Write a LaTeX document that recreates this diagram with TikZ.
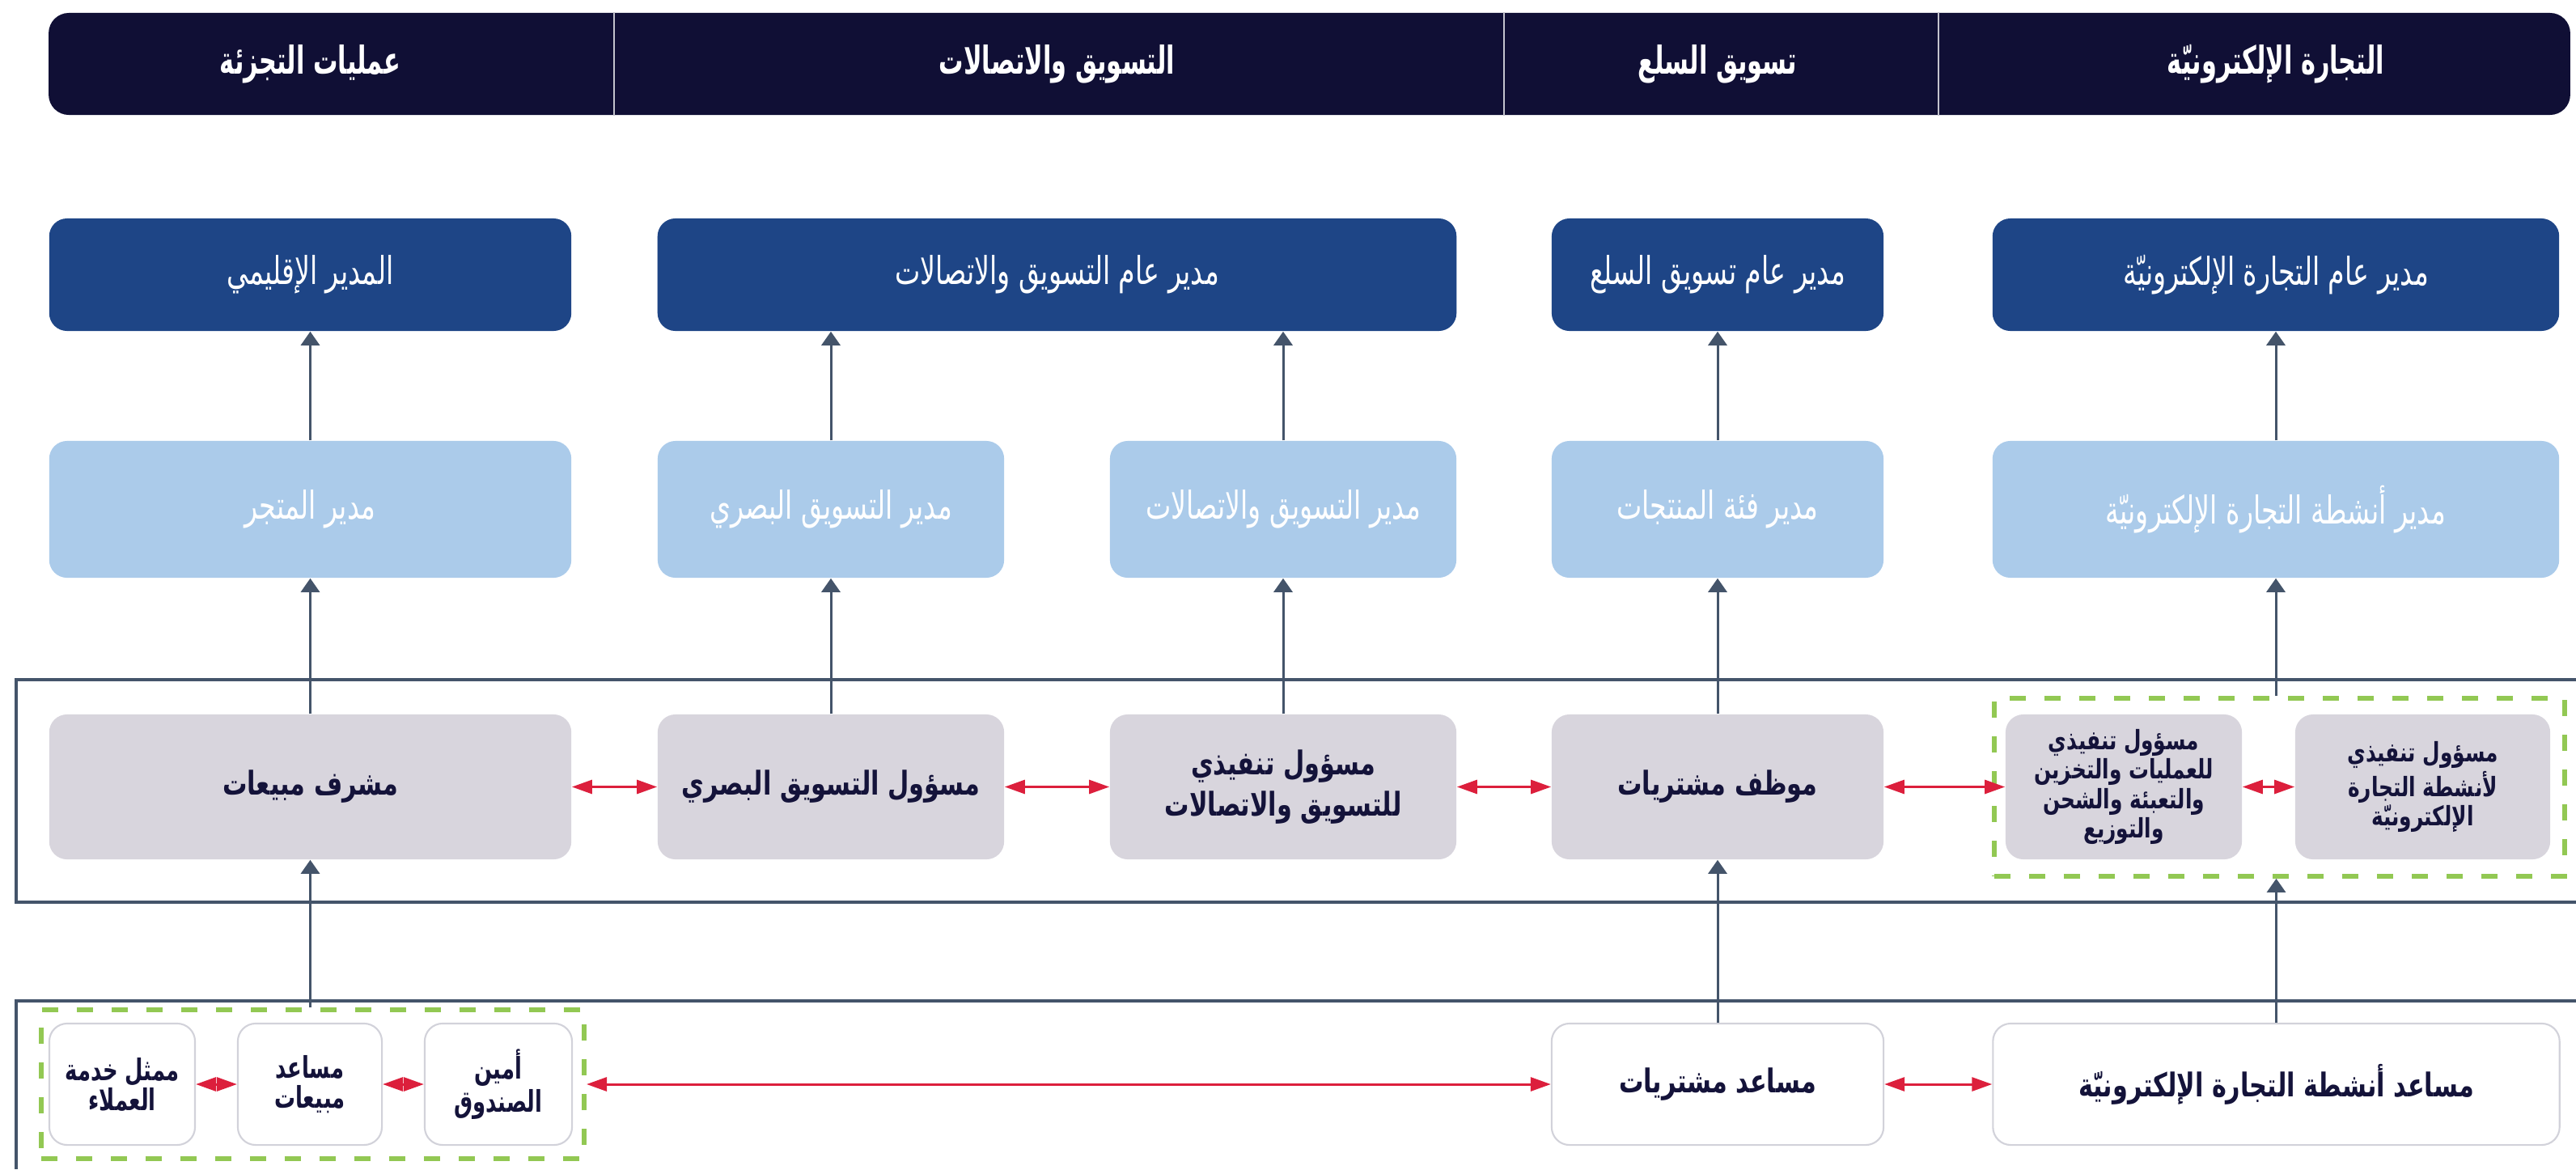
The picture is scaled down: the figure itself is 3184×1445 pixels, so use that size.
\documentclass[tikz,border=0pt]{standalone}
\usepackage{fontspec}
\newfontfamily\arfont[Script=Arabic,FakeStretch=0.75]{DejaVu Sans Bold}
\newfontfamily\arnarrow[Script=Arabic,FakeStretch=0.7]{DejaVu Sans Bold}
\newfontfamily\arcond[Script=Arabic,FakeStretch=0.7]{DejaVu Sans}
\newfontfamily\arhead[Script=Arabic,FakeStretch=0.64]{DejaVu Sans Bold}
\TeXXeTstate=1
\usetikzlibrary{arrows.meta}
\newcommand{\ar}[1]{\beginR #1\endR}
\definecolor{navy}{HTML}{100F35}
\definecolor{rowone}{HTML}{1E4586}
\definecolor{rowtwo}{HTML}{ABCBEA}
\definecolor{rowthree}{HTML}{D8D5DD}
\definecolor{rimgray}{HTML}{D2D2DA}
\definecolor{ink}{HTML}{14133A}
\definecolor{slate}{HTML}{44546A}
\definecolor{linkred}{HTML}{DC1F3C}
\definecolor{lime}{HTML}{92C853}
\tikzset{
  box/.style={rectangle, rounded corners=0.22cm, inner sep=2pt, align=center},
  hdr/.style={text=white, font=\arhead\fontsize{13.5}{15}\selectfont},
  lvlone/.style={box, fill=rowone, text=white, minimum height=1.39cm, font=\arcond\fontsize{13.5}{15}\selectfont},
  lvltwo/.style={box, fill=rowtwo, text=white, minimum height=1.69cm, font=\arcond\fontsize{13.5}{15}\selectfont},
  lvlthree/.style={box, fill=rowthree, text=ink, minimum height=1.79cm, font=\arfont\fontsize{11.5}{14.5}\selectfont},
  lvlfour/.style={box, fill=white, draw=rimgray, line width=0.6pt, text=ink, minimum height=1.5cm, font=\arfont\fontsize{11.5}{11}\selectfont},
  small/.style={font=\arfont\fontsize{9.4}{10.4}\selectfont},
  tiny/.style={font=\arnarrow\fontsize{10.5}{10.5}\selectfont},
  grp/.style={rectangle, draw=lime, line width=1.6pt, dash pattern=on 0.2cm off 0.23cm},
  band/.style={draw=slate, line width=0.9pt},
  up/.style={draw=slate, line width=0.85pt, -{Triangle[width=0.23cm,length=0.17cm]}},
  link/.style={draw=linkred, line width=0.85pt, {Triangle[width=0.17cm,length=0.25cm]}-{Triangle[width=0.17cm,length=0.25cm]}}
}
\begin{document}
\begin{tikzpicture}[x=0.01cm, y=-0.01cm]
    \useasboundingbox (0,0) rectangle (3184,1445);
    \draw[band] (3184,840) -| (20,1115) -- (3184,1115);
    \draw[band] (3184,1237) -| (20,1445);
    \node[fill=navy, rounded corners=0.25cm, minimum width=31.15cm, minimum height=1.26cm] (bar) at (1618.5,79) {};
    \foreach \x in {759,1859,2396}
    \draw[white!75!navy, line width=0.6pt] (\x,0 |- bar.north) -- (\x,0 |- bar.south);
    \node[hdr] (h1) at (383.5,79) {\ar{عمليات التجزئة}};
    \node[hdr] (h2) at (1306.5,79) {\ar{التسويق والاتصالات}};
    \node[hdr] (h3) at (2123,79) {\ar{تسويق السلع}};
    \node[hdr] (h4) at (2813,79) {\ar{التجارة الإلكترونيّة}};
    \node[lvlone, minimum width=6.45cm] (a1) at (383.5,339.5) {\ar{المدير الإقليمي}};
    \node[lvlone, minimum width=9.87cm] (b1) at (1306.5,339.5) {\ar{مدير عام التسويق والاتصالات}};
    \node[lvlone, minimum width=4.1cm] (c1) at (2123,339.5) {\ar{مدير عام تسويق السلع}};
    \node[lvlone, minimum width=7cm] (d1) at (2813,339.5) {\ar{مدير عام التجارة الإلكترونيّة}};
    \node[lvltwo, minimum width=6.45cm] (a2) at (383.5,629.5) {\ar{مدير المتجر}};
    \node[lvltwo, minimum width=4.28cm] (b2a) at (1027,629.5) {\ar{مدير التسويق البصري}};
    \node[lvltwo, minimum width=4.28cm] (b2b) at (1586,629.5) {\ar{مدير التسويق والاتصالات}};
    \node[lvltwo, minimum width=4.1cm] (c2) at (2123,629.5) {\ar{مدير فئة المنتجات}};
    \node[lvltwo, minimum width=7cm] (d2) at (2813,629.5) {\ar{مدير أنشطة التجارة الإلكترونيّة}};
    \node[lvlthree, minimum width=6.45cm] (a3) at (383.5,972.5) {\ar{مشرف مبيعات}};
    \node[lvlthree, minimum width=4.28cm] (b3a) at (1027,972.5) {\ar{مسؤول التسويق البصري}};
    \node[lvlthree, minimum width=4.28cm] (b3b) at (1586,972.5) {\ar{مسؤول تنفيذي}\\\ar{للتسويق والاتصالات}};
    \node[lvlthree, minimum width=4.1cm] (c3) at (2123,972.5) {\ar{موظف مشتريات}};
    \node[grp, minimum width=7.05cm, minimum height=2.2cm] (d3grp) at (2817.5,973) {};
    \node[lvlthree, small, minimum width=2.92cm] (d3a) at (2625,972.5) {\ar{مسؤول تنفيذي}\\\ar{للعمليات والتخزين}\\\ar{والتعبئة والشحن}\\\ar{والتوزيع}};
    \node[lvlthree, small, minimum width=3.15cm] (d3b) at (2994.5,972.5) {\ar{مسؤول تنفيذي}\\\ar{لأنشطة التجارة}\\\ar{الإلكترونيّة}};
    \node[grp, minimum width=6.71cm, minimum height=1.84cm] (a4grp) at (386.5,1340) {};
    \node[lvlfour, tiny, minimum width=1.8cm] (a4a) at (151,1340) {\ar{ممثل خدمة}\\\ar{العملاء}};
    \node[lvlfour, tiny, minimum width=1.78cm] (a4b) at (383,1340) {\ar{مساعد}\\\ar{مبيعات}};
    \node[lvlfour, tiny, minimum width=1.82cm] (a4c) at (616,1340) {\ar{أمين}\\\ar{الصندوق}};
    \node[lvlfour, minimum width=4.1cm] (c4) at (2123,1340) {\ar{مساعد مشتريات}};
    \node[lvlfour, minimum width=7cm] (d4) at (2813.5,1340) {\ar{مساعد أنشطة التجارة الإلكترونيّة}};
    \foreach \lo/\hi in {a2/a1,b2a/b1,b2b/b1,c2/c1,d2/d1,a3/a2,b3a/b2a,b3b/b2b,c3/c2,c4/c3}
    \draw[up] (\lo.north) -- (\lo.north |- \hi.south);
    \draw[up] (d2.south |- d3grp.north) -- (d2.south);
    \draw[up] (a3.south |- a4grp.north) -- (a3.south);
    \draw[up] (d4.north) -- (d4.north |- d3grp.south);
    \foreach \l/\r in {a3/b3a,b3a/b3b,b3b/c3,c3/d3a,d3a/d3b,a4a/a4b,a4b/a4c,a4grp/c4,c4/d4}
    \draw[link] (\l.east) -- (\r.west);
\end{tikzpicture}
\end{document}
